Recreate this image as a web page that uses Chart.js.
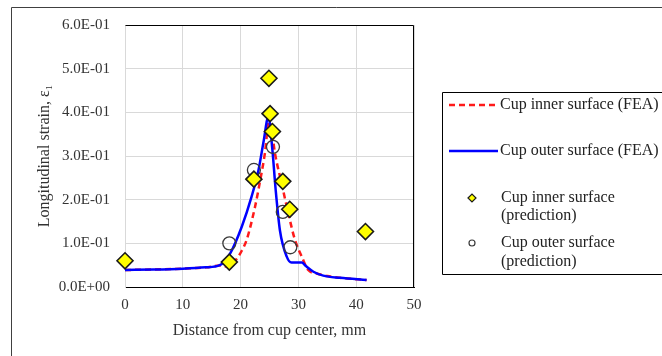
<!DOCTYPE html>
<html>
<head>
<meta charset="utf-8">
<script src="https://cdn.jsdelivr.net/npm/chart.js@4/dist/chart.umd.min.js"></script>
<style>
  html, body { margin: 0; padding: 0; background: #fff; overflow: hidden; }
  #wrap { width: 662px; height: 356px; }
</style>
</head>
<body>
<div id="wrap"><canvas id="strainChart" width="662" height="356"></canvas></div>
<script>
// LONGITUDINAL STRAIN vs DISTANCE - SCATTER + LINES

// FEA curves
const innerFeaX = [0, 5, 10, 14, 16.4, 18.0, 19.3, 20.2, 21.05, 22.5, 23.4, 24.2, 25.0, 25.95, 27.1, 28.25, 29.4, 30.6, 31.7, 33.2, 35, 37.2, 41.8];
const innerFeaY = [0.039, 0.040, 0.042, 0.045, 0.049, 0.046, 0.064, 0.083, 0.108, 0.184, 0.245, 0.306, 0.39, 0.306, 0.237, 0.169, 0.108, 0.069, 0.039, 0.031, 0.025, 0.021, 0.016];

const outerFeaX = [0, 5, 10, 14, 16.4, 18.2, 20.2, 21.9, 23.1, 24.0, 24.8, 25.5, 26.05, 26.8, 28.0, 28.8, 30.6, 31.3, 32.6, 34.3, 37.2, 41.8];
const outerFeaY = [0.039, 0.040, 0.042, 0.045, 0.050, 0.077, 0.138, 0.207, 0.268, 0.335, 0.39, 0.314, 0.225, 0.13, 0.069, 0.056, 0.056, 0.048, 0.035, 0.026, 0.021, 0.016];

// predictions
const innerPredX = [0, 18.05, 22.3, 24.9, 25.1, 25.5, 27.3, 28.5, 41.6];
const innerPredY = [0.06, 0.057, 0.247, 0.478, 0.397, 0.356, 0.242, 0.178, 0.127];

const outerPredX = [18.05, 22.3, 25.6, 27.3, 28.6];
const outerPredY = [0.100, 0.268, 0.321, 0.172, 0.091];

const seriesNames = [
    "Cup inner surface (FEA)",
    "Cup outer surface (FEA)",
    ["Cup inner surface", "(prediction)"],
    ["Cup outer surface", "(prediction)"]
];

const xTicks = [0, 10, 20, 30, 40, 50];
const yTicks = [0, 0.1, 0.2, 0.3, 0.4, 0.5, 0.6];

function pts(xs, ys) {
    return xs.map((x, i) => ({ x: x, y: ys[i] }));
}

function sci(v) {
    if (Math.abs(v) < 1e-12) return "0.0E+00";
    const e = Math.floor(Math.log10(Math.abs(v)) + 1e-9);
    const m = v / Math.pow(10, e);
    return m.toFixed(1) + "E" + (e < 0 ? "-" : "+") + String(Math.abs(e)).padStart(2, "0");
}

const FONT = "'Liberation Serif', 'Times New Roman', serif";

// outer frame + legend box, drawn by hand
const framePlugin = {
    id: "frame",
    beforeDraw(chart) {
        const ctx = chart.ctx;
        ctx.save();
        ctx.strokeStyle = "#404040";
        ctx.lineWidth = 1;
        ctx.beginPath();
        ctx.moveTo(662, 7.5);
        ctx.lineTo(11.5, 7.5);
        ctx.lineTo(11.5, 356);
        ctx.stroke();
        ctx.restore();
    },
    afterDraw(chart) {
        const ctx = chart.ctx;
        const ds = chart.data.datasets;
        ctx.save();
        ctx.strokeStyle = "#000";
        ctx.lineWidth = 1;
        ctx.beginPath();
        ctx.moveTo(662, 92.5);
        ctx.lineTo(442.5, 92.5);
        ctx.lineTo(442.5, 274.5);
        ctx.lineTo(662, 274.5);
        ctx.stroke();

        ctx.font = "16px " + FONT;
        ctx.fillStyle = "#222";
        ctx.textBaseline = "middle";
        ctx.textAlign = "left";

        // line entries
        const lineRows = [105, 151];
        for (let i = 0; i < 2; i++) {
            const y = lineRows[i];
            ctx.beginPath();
            ctx.strokeStyle = ds[i].borderColor;
            ctx.lineWidth = ds[i].borderWidth;
            ctx.setLineDash(ds[i].borderDash || []);
            ctx.moveTo(449, y);
            ctx.lineTo(498, y);
            ctx.stroke();
            ctx.setLineDash([]);
            ctx.fillText(seriesNames[i], 500, y);
        }

        // marker entries
        const markRows = [[198, 216], [243, 262]];
        for (let i = 2; i < 4; i++) {
            const rows = markRows[i - 2];
            const cy = rows[0];
            ctx.beginPath();
            if (ds[i].pointStyle === "rectRot") {
                ctx.moveTo(468, cy); ctx.lineTo(472, cy - 4);
                ctx.lineTo(476, cy); ctx.lineTo(472, cy + 4);
                ctx.closePath();
                ctx.fillStyle = ds[i].pointBackgroundColor;
                ctx.fill();
            } else {
                ctx.arc(472, cy, 3, 0, Math.PI * 2);
            }
            ctx.strokeStyle = ds[i].pointBorderColor;
            ctx.lineWidth = 1.2;
            ctx.stroke();
            ctx.fillStyle = "#222";
            ctx.fillText(seriesNames[i][0], 501, rows[0]);
            ctx.fillText(seriesNames[i][1], 501, rows[1]);
        }
        ctx.restore();
    }
};

// black top + right edges of the plot area
const plotBorder = {
    id: "plotBorder",
    beforeDatasetsDraw(chart) {
        const a = chart.chartArea;
        const ctx = chart.ctx;
        ctx.save();
        ctx.strokeStyle = "#000";
        ctx.lineWidth = 1;
        ctx.beginPath();
        ctx.moveTo(Math.round(a.left) + 0.5, Math.round(a.top) + 0.5);
        ctx.lineTo(Math.round(a.right) - 0.5, Math.round(a.top) + 0.5);
        ctx.lineTo(Math.round(a.right) - 0.5, Math.round(a.bottom));
        ctx.stroke();
        ctx.restore();
    }
};

const strainDiv = document.getElementById("strainChart");

const strainChart = new Chart(strainDiv, {
    type: "scatter",
    data: {
        datasets: [
            {
                label: seriesNames[0],
                data: pts(innerFeaX, innerFeaY),
                showLine: true,
                borderColor: "#ff1a1a",
                borderWidth: 2.5,
                borderDash: [6, 4],
                pointRadius: 0,
                cubicInterpolationMode: "monotone",
                order: 4
            },
            {
                label: seriesNames[1],
                data: pts(outerFeaX, outerFeaY),
                showLine: true,
                borderColor: "#0000ff",
                borderWidth: 2.5,
                pointRadius: 0,
                cubicInterpolationMode: "monotone",
                order: 3
            },
            {
                label: seriesNames[2].join(" "),
                data: pts(innerPredX, innerPredY),
                pointStyle: "rectRot",
                pointRadius: 8,
                pointBackgroundColor: "#ffff00",
                pointBorderColor: "#1a1a1a",
                pointBorderWidth: 1.6,
                clip: false,
                order: 1
            },
            {
                label: seriesNames[3].join(" "),
                data: pts(outerPredX, outerPredY),
                pointStyle: "circle",
                pointRadius: 6.5,
                pointBackgroundColor: "rgba(0,0,0,0)",
                pointBorderColor: "#3a3a3a",
                pointBorderWidth: 1.3,
                clip: false,
                order: 2
            }
        ]
    },
    options: {
        responsive: false,
        animation: false,
        layout: { padding: { top: 25, right: 248, left: 0, bottom: 0 } },
        plugins: {
            legend: { display: false },
            tooltip: { enabled: false }
        },
        scales: {
            x: {
                type: "linear",
                min: 0,
                max: 50,
                afterBuildTicks: (s) => { s.ticks = xTicks.map(v => ({ value: v })); },
                afterFit: (s) => { s.height = 69; },
                grid: { color: "#d9d9d9", drawTicks: false },
                border: { color: "#000", width: 1 },
                ticks: {
                    padding: 9,
                    color: "#333",
                    font: { family: FONT, size: 15 }
                },
                title: {
                    display: true,
                    text: "Distance from cup center, mm",
                    color: "#333",
                    font: { family: FONT, size: 16 },
                    padding: { top: 0, bottom: 16 }
                }
            },
            y: {
                type: "linear",
                min: 0,
                max: 0.6,
                afterBuildTicks: (s) => { s.ticks = yTicks.map(v => ({ value: v })); },
                afterFit: (s) => { s.width = 125; },
                grid: { color: "#d9d9d9", drawTicks: false },
                border: { color: "#d9d9d9", width: 1 },
                ticks: {
                    padding: 15,
                    color: "#333",
                    font: { family: FONT, size: 15 },
                    callback: (v) => sci(v)
                },
                title: {
                    display: true,
                    text: "Longitudinal strain, ε₁",
                    color: "#333",
                    font: { family: FONT, size: 16 },
                    padding: { top: 35, bottom: 0 }
                }
            }
        }
    },
    plugins: [framePlugin, plotBorder]
});
</script>
</body>
</html>
